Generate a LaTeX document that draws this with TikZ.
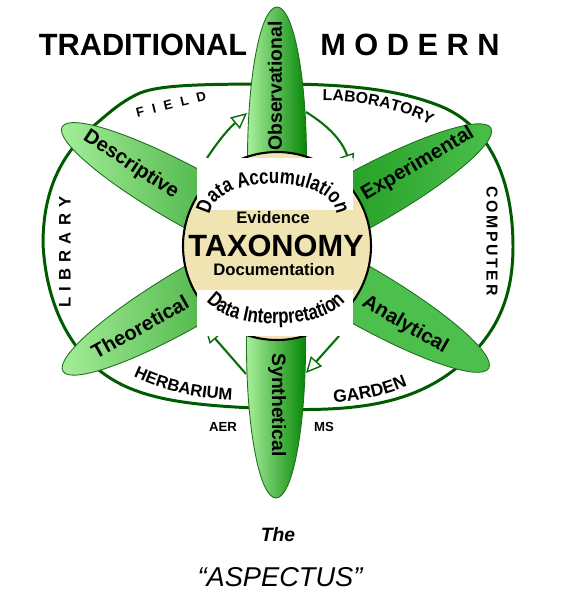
\documentclass[tikz,border=0pt]{standalone}
\usepackage{fontspec}
\setmainfont{Liberation Sans}
\newfontfamily\archfont[FakeStretch=0.8]{Liberation Sans}
\usetikzlibrary{arrows.meta,decorations.text,positioning}
\definecolor{ringgreen}{HTML}{005A00}
\definecolor{arrgreen}{HTML}{0A6E0A}
\definecolor{petline}{HTML}{1F6F1F}
\definecolor{petlight}{HTML}{A8F09C}
\definecolor{petmid}{HTML}{4CBF4C}
\definecolor{petdark}{HTML}{078707}
\definecolor{taxbeige}{HTML}{F1E4B3}
\newcommand{\fsz}[1]{\fontsize{#1}{#1}\selectfont}
\newcommand{\lgap}{\hspace{4.8pt}}

\begin{document}
\begin{tikzpicture}[x=0.02cm,y=-0.02cm,>=Latex,
  petal/.style={draw=petline,line width=0.5pt},
  petlab/.style={font=\bfseries\fsz{11.5},inner sep=0pt},
  ringlab/.style={font=\bfseries\fsz{9.5},inner sep=0pt},
  cycarrow/.style={draw=arrgreen,line width=1.2pt,-{Triangle[length=9pt,width=8.5pt,fill=white,line width=0.8pt]}}]
\useasboundingbox (0,0) rectangle (561,612);

% ring of the working places
\draw[ringgreen,line width=1.7pt] (43,244) .. controls (43,185) and (65,150) .. (97,123)
  .. controls (110,112) and (122,101) .. (140,93)
  .. controls (160,85) and (200,84) .. (277,84)
  .. controls (350,84) and (400,90) .. (440,106)
  .. controls (490,126) and (513,180) .. (513,247)
  .. controls (513,300) and (495,340) .. (450,373)
  .. controls (410,402) and (360,412) .. (277,409)
  .. controls (200,406) and (145,402) .. (107,376)
  .. controls (80,358) and (47,318) .. cycle;

% petals
\shade[petal,left color=petlight,right color=petdark,rotate around={90:(277,160)}] (277,160) ellipse (153 and 29.5);
\shade[petal,left color=petlight,right color=petdark,rotate around={151:(196,201)}] (196,201) ellipse (153 and 29);
\shade[petal,left color=petdark,right color=petmid,rotate around={28.9:(357,202)}] (357,202) ellipse (153 and 29);
\shade[petal,left color=petlight,right color=petdark,rotate around={210.3:(195,294)}] (195,294) ellipse (153 and 29);
\shade[petal,left color=petmid,middle color=petdark,right color=petmid,rotate around={-29.9:(356,292)}] (356,292) ellipse (153 and 29);
\shade[petal,left color=petlight,right color=petdark,rotate around={-90:(276,345)}] (276,345) ellipse (153 and 29.5);

% cycle arrows
\coordinate (acc1) at (207,158);
\coordinate (obs1) at (247,113);
\coordinate (obs2) at (306,112);
\coordinate (exp1) at (352,170);
\coordinate (ana1) at (339,336);
\coordinate (syn1) at (306,373);
\coordinate (syn2) at (246,374);
\coordinate (the1) at (205,327);
\draw[cycarrow] (acc1) to[bend left=8] (obs1);
\draw[cycarrow] (obs2) to[bend left=20] (exp1);
\draw[cycarrow] (ana1) -- (syn1);
\draw[cycarrow] (syn2) -- (the1);

% centre
\filldraw[fill=taxbeige,draw=black,line width=1.2pt] (277,246) circle (94);
\fill[white] (197,158) rectangle (353,210);
\fill[white] (197,290) rectangle (353,336);
\node[font=\bfseries\fsz{17.5},inner sep=0pt] (tax) at (276,246) {TAXONOMY};
\node[font=\bfseries\fsz{9.5},inner sep=0pt] (evid) at (273,218) {Evidence};
\node[font=\bfseries\fsz{9.5},inner sep=0pt] (docu) at (274,270) {Documentation};
\path[decorate,decoration={text along path,text align=center,
  text={|\archfont\bfseries\fsz{12}|Data Accumulation}}]
  (214,225) arc[start angle=160,end angle=380,x radius=63,y radius=31];
\path[decorate,decoration={text along path,text align=center,
  text={|\archfont\bfseries\fsz{12}|Data Interpretation}}]
  (203,284) arc[start angle=190,end angle=-10,x radius=74,y radius=34];

% petal labels
\node[petlab,font=\bfseries\fsz{11},rotate=90] (obs) at (275,86) {Observational};
\node[petlab,rotate=-33] (des) at (131,165) {Descriptive};
\node[petlab,rotate=30.5] (exp) at (418,164) {Experimental};
\node[petlab,rotate=29] (theo) at (140,327) {Theoretical};
\node[petlab,rotate=-30] (ana) at (405,325) {Analytical};
\node[petlab,font=\bfseries\fsz{11},rotate=-90] (syn) at (277,405) {Synthetical};

% ring labels
\node[ringlab,font=\bfseries\fsz{7.5},rotate=14] (field) at (171,104) {F\lgap I\lgap E\lgap L\lgap D};
\node[ringlab,rotate=90] (libr) at (65,252) {L\hspace{3.5pt}I\hspace{3.5pt}B\hspace{3.5pt}R\hspace{3.5pt}A\hspace{3.5pt}R\hspace{3.5pt}Y};
\node[ringlab,font=\bfseries\fsz{9},rotate=-90] (comp) at (492,241) {C\,O\,M\,P\,U\,T\,E\,R};
\path[decorate,decoration={text along path,text align=center,
  text={|\bfseries\fsz{9}|LABORATORY}}]
  (312,101) .. controls (350,99) and (400,106) .. (440,130);
\path[decorate,decoration={text along path,text align=center,
  text={|\bfseries\fsz{9.5}|HERBARIUM}}]
  (122,371) .. controls (160,392) and (200,400) .. (245,400);
\path[decorate,decoration={text along path,text align=center,
  text={|\bfseries\fsz{10}|GARDEN}}]
  (322,402) .. controls (355,403) and (390,396) .. (418,381);
\node[font=\bfseries\fsz{7.5}] (aer) at (223,427) {AER};
\node[font=\bfseries\fsz{7.5}] (ms) at (324,427) {MS};

% headings
\node[font=\bfseries\fsz{17.5}] (trad) at (143,45) {TRADITIONAL};
\node[font=\bfseries\fsz{17.5}] (mod) at (410,45) {M O D E R N};
\node[font=\bfseries\itshape\fsz{11}] (the) at (278,535) {The};
\node[font=\itshape\fsz{15.5}] (asp) at (280,577) {“ASPECTUS”};
\end{tikzpicture}
\end{document}
